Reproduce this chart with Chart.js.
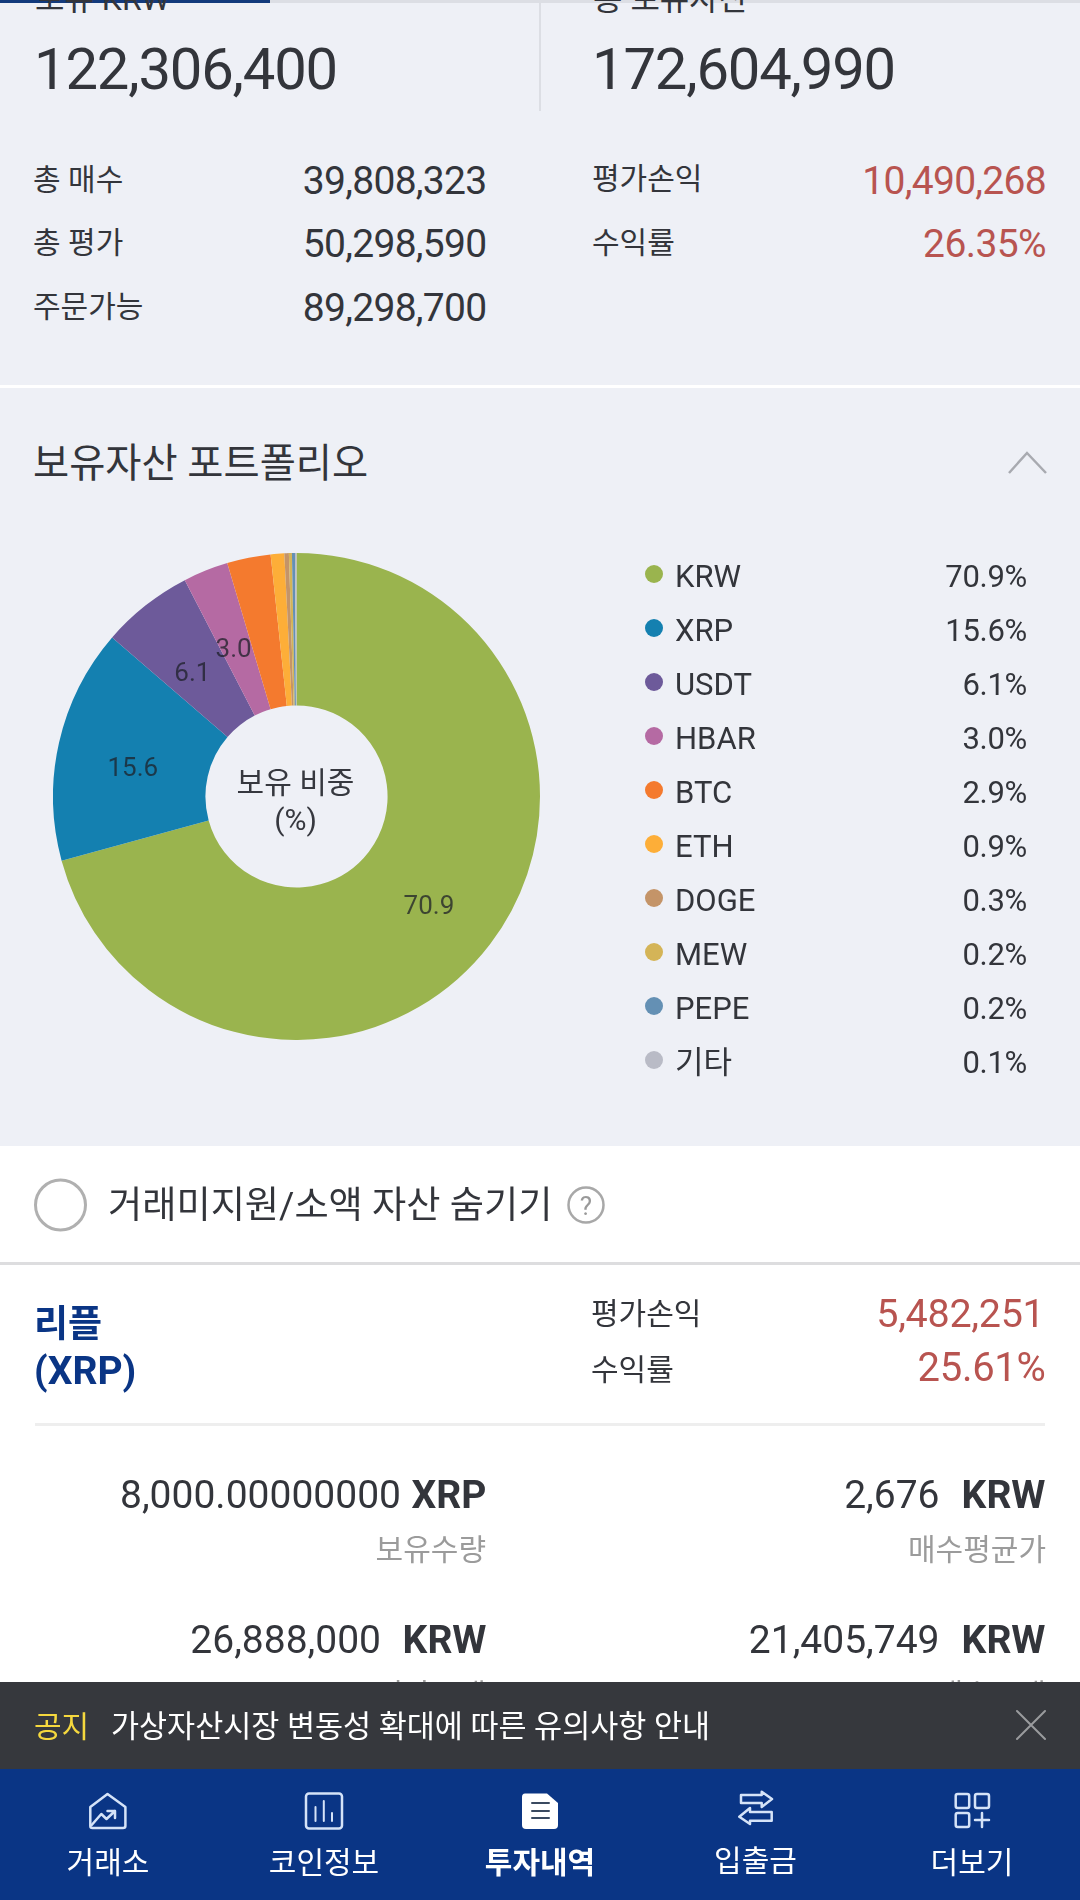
<!DOCTYPE html>
<html lang="ko"><head><meta charset="utf-8">
<style>
html,body{margin:0;padding:0;width:1080px;height:1900px;overflow:hidden;background:#eef0f6;font-family:Roboto,"Noto Sans CJK KR",sans-serif;color:#33353b}
#stage{position:relative;width:1080px;height:1900px;overflow:hidden}
.r{position:absolute}
.t{position:absolute;white-space:pre;line-height:1;transform:translateY(-50%)}
canvas{position:absolute;left:53px;top:553px}
svg{position:absolute;overflow:visible}
</style>
<script src="https://cdn.jsdelivr.net/npm/chart.js@4"></script>
</head><body><div id="stage"><canvas id="pie" width="487" height="487"></canvas></div>
<script>
const categories=["KRW","XRP","USDT","HBAR","BTC","ETH","DOGE","MEW","PEPE","기타"];
const shares=[70.9,15.6,6.1,3.0,2.9,0.9,0.3,0.2,0.2,0.1];
const sliceColors=["#9ab44e","#1480b0","#6d5a9a","#b56aa3","#f47a2e","#fdae38","#c49468","#d4b457","#6490b4","#b9bbc6"];
const centerLines=["보유 비중","(%)"];
const navLabels=["거래소","코인정보","투자내역","입출금","더보기"];

const stage=document.getElementById('stage');
function rect(x,y,w,h,c){const d=document.createElement('div');d.className='r';d.style.cssText=`left:${x}px;top:${y}px;width:${w}px;height:${h}px;background:${c}`;stage.appendChild(d);return d}
function text(s,x,cy,size,color,o={}){const d=document.createElement('div');d.className='t';d.textContent=s;
 let css=`top:${cy}px;font-size:${size}px;color:${color};`;
 if(o.right!==undefined)css+=`right:${1080-o.right}px;`;else if(o.center)css+=`left:${x-200}px;width:400px;text-align:center;`;else css+=`left:${x}px;`;
 if(o.bold)css+='font-weight:700;';
 if(o.ls)css+=`letter-spacing:${o.ls}px;`;
 d.style.cssText=css;stage.appendChild(d);return d}

const INK='#33353b',RED='#b85450',NAVY='#0a3585',GREY='#9b9b9b';

// top summary
rect(0,0,1080,3,'#dcdee4');rect(0,0,270,3,'#123a7c');
text('보유 KRW',35,-1,32,INK);text('총 보유자산',593,-1,32,INK);
rect(539,0,2,111,'#dcdee4');
text('122,306,400',34,68.5,58,INK,{ls:-1.2});text('172,604,990',592,68.5,58,INK,{ls:-1.2});
[['총 매수','39,808,323',180],['총 평가','50,298,590',243],['주문가능','89,298,700',307]].forEach(a=>{text(a[0],33,a[2],30,INK);text(a[1],0,a[2]+1,39,INK,{right:486.5,ls:-0.7})});
text('평가손익',592,179,30,INK);text('10,490,268',0,181,39,RED,{right:1046,ls:-0.7});
text('수익률',592,243,30,INK);text('26.35%',0,244,39,RED,{right:1046,ls:-0.6});
rect(0,385,1080,3,'#ffffff');
text('보유자산 포트폴리오',33,465,39.3,INK);
stage.insertAdjacentHTML('beforeend','<svg style="left:0;top:0" width="1080" height="1900"><polyline points="1009,473 1027,453 1046,473" fill="none" stroke="#a8aab0" stroke-width="2.5"/></svg>');

// legend
categories.forEach((c,i)=>{const y=574+i*54;
 const dot=rect(645,y-9,18,18,sliceColors[i]);dot.style.borderRadius='50%';
 text(c,675,y+2,31,INK);text(shares[i].toFixed(1)+'%',0,y+2,31,INK,{right:1027,ls:-0.3});});

// white section
rect(0,1146,1080,754,'#ffffff');
stage.insertAdjacentHTML('beforeend','<svg style="left:0;top:0" width="1080" height="1900"><circle cx="60.5" cy="1205" r="25" fill="#fff" stroke="#b0b0b0" stroke-width="3"/><circle cx="586" cy="1205" r="17.5" fill="none" stroke="#a8a8a8" stroke-width="2.5"/></svg>');
text('거래미지원/소액 자산 숨기기',108,1206,37.2,INK);
text('?',586,1206,26,'#999999',{center:true});
rect(0,1262,1080,3,'#dddddf');
text('리플',34,1324,37,NAVY,{bold:true});text('(XRP)',34,1371,39,NAVY,{bold:true});
text('평가손익',591,1314,30,INK);text('5,482,251',0,1314,39.5,RED,{right:1044.5,ls:-0.3});
text('수익률',591,1370,30,INK);text('25.61%',0,1368,40,RED,{right:1045.5,ls:-0.3});
rect(35,1423,1010,3,'#eeeeee');
text('8,000.00000000',0,1495,39,INK,{right:401});text('XRP',0,1495,39,INK,{right:486.5,bold:true});
text('2,676',0,1495,39,INK,{right:939.5});text('KRW',0,1495,39,INK,{right:1045.5,bold:true});
text('보유수량',0,1550,30,GREY,{right:486});text('매수평균가',0,1550,30,GREY,{right:1046});
text('26,888,000',0,1640,39,INK,{right:381});text('KRW',0,1640,39,INK,{right:486.5,bold:true});
text('21,405,749',0,1640,39,INK,{right:939.5});text('KRW',0,1640,39,INK,{right:1045.5,bold:true});
text('평가금액',0,1695,30,GREY,{right:486});text('매수금액',0,1695,30,GREY,{right:1046});

// notice bar
rect(0,1682,1080,87,'#36383d');
text('공지',34,1727,30,'#f5d83e');
text('가상자산시장 변동성 확대에 따른 유의사항 안내',111,1727,30.5,'#ffffff');
// nav
rect(0,1769,1080,131,NAVY);
const navX=[108,324,540,755.5,972];
navLabels.forEach((s,i)=>text(s,navX[i],i==3?1861:1863,30,'#ffffff',{center:true,bold:i==2}));
stage.insertAdjacentHTML('beforeend',`<svg style="left:0;top:0" width="1080" height="1900" fill="none" stroke="#d5e3f8" stroke-width="2.5" stroke-linejoin="round" stroke-linecap="round">
<path d="M1017,1711 L1045,1739 M1045,1711 L1017,1739" stroke="#9a9b9e" stroke-width="2"/>
<path d="M107.5,1794 L125.4,1807 V1826 Q125.4,1828 123,1828 H92.5 Q90.3,1828 90.3,1826 V1807 Z"/><path d="M91.7,1825 L101.3,1814 L106.5,1819 L115,1811 M107.5,1811 H115 V1818"/>
<rect x="306" y="1793.5" width="36" height="35" rx="3"/><path d="M315.5,1807 V1821 M323.8,1801 V1821 M332,1813 V1821" stroke-width="2"/>
<path d="M525,1793.5 H547 L558,1803 V1825 Q558,1829 554,1829 H526 Q522,1829 522,1825 V1797 Q522,1793.5 525,1793.5 Z" fill="#ffffff" stroke="none"/><path d="M532,1803 H549 M532,1811 H549 M532,1818 H549" stroke="#3a4a60" stroke-width="2"/>
<path d="M741,1795 H761.7 V1791.7 L772,1799 L761.7,1807 V1803 H741 Z"/>
<path d="M771.7,1812 H750 V1808 L739.3,1816.7 L750,1824 V1820.7 H771.7 Z"/>
<rect x="955.7" y="1794" width="13.5" height="14" rx="2"/><rect x="975" y="1794" width="14" height="14" rx="2"/><rect x="955.7" y="1813" width="13.5" height="14" rx="2"/><path d="M975,1820 H989 M982,1813 V1827"/>
</svg>`);

// chart
const labelPlugin={id:'sliceLabels',afterDatasetDraw(chart){
 const ctx=chart.ctx,arcs=chart.getDatasetMeta(0).data;
 ctx.save();ctx.textAlign='center';ctx.textBaseline='middle';ctx.font='26px Roboto';ctx.fillStyle='rgba(30,32,40,0.75)';
 arcs.forEach((a,i)=>{if(shares[i]<3)return;const p=a.tooltipPosition();ctx.fillText(shares[i].toFixed(1),p.x-0.5,p.y+9.5)});
 const a0=arcs[0];ctx.fillStyle='#36383f';ctx.font='30px Roboto,"Noto Sans CJK KR"';
 ctx.fillText(centerLines[0],a0.x-1,a0.y-11);ctx.fillText(centerLines[1],a0.x-1,a0.y+26);
 ctx.restore()}};
new Chart(document.getElementById('pie'),{type:'doughnut',plugins:[labelPlugin],
 data:{labels:categories,datasets:[{data:shares,backgroundColor:sliceColors,borderWidth:0}]},
 options:{responsive:false,animation:false,cutout:'37.4%',layout:{padding:0},plugins:{legend:{display:false},tooltip:{enabled:false}}}});
</script></body></html>
